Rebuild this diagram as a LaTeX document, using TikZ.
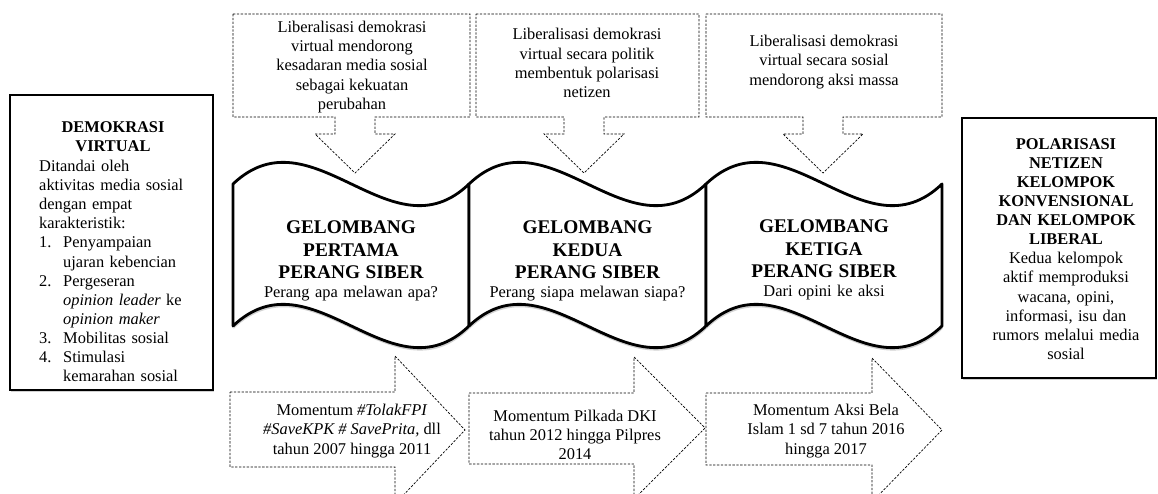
\documentclass[tikz,border=0pt]{standalone}
\usepackage{fontspec}
\setmainfont{Liberation Serif}
\usetikzlibrary{shadows}
\begin{document}
\begin{tikzpicture}[
    x=0.3mm, y=-0.3mm,
    sidebox/.style={draw, line width=1.5pt, fill=white, drop shadow={shadow xshift=1pt, shadow yshift=-1.5pt, fill=black!18, opacity=1}},
    wave/.style={draw, line width=2.4pt, fill=white, line join=round, drop shadow={shadow xshift=0.5pt, shadow yshift=-2.5pt, fill=black!18, opacity=1}},
    dashbox/.style={draw, line width=0.6pt, dash pattern=on 2pt off 1.3pt, fill=white},
    txt/.style={align=center, inner sep=0pt, font=\fontsize{14}{16.3}\selectfont},
    boldtxt/.style={txt, font=\fontsize{14}{16.3}\selectfont\bfseries},
    wavetxt/.style={txt, text width=65mm}
]
\useasboundingbox (0,0) rectangle (1158,494);
\clip (0,0) rectangle (1158,494);

% Left box
\draw[sidebox] (10,95) rectangle (213,390);
\node[boldtxt] (demotitle) at (113,136.5) {DEMOKRASI\\VIRTUAL};
\node[txt, align=left, text width=52mm, anchor=west] (demotext) at (39,271) {Ditandai oleh\\
    aktivitas media sosial\\
    dengan empat\\
    karakteristik:\\
    \makebox[7.2mm][l]{1.}Penyampaian\\
    \hspace*{7.2mm}ujaran kebencian\\
    \makebox[7.2mm][l]{2.}Pergeseran\\
    \hspace*{7.2mm}\textit{opinion leader} ke\\
    \hspace*{7.2mm}\textit{opinion maker}\\
    \makebox[7.2mm][l]{3.}Mobilitas sosial\\
    \makebox[7.2mm][l]{4.}Stimulasi\\
    \hspace*{7.2mm}kemarahan sosial};

% Right box
\draw[sidebox] (962,118) rectangle (1156,378);
\node[txt, text width=57mm] (poltext) at (1066,249) {{\bfseries POLARISASI\\
    NETIZEN\\
    KELOMPOK\\
    KONVENSIONAL\\
    DAN KELOMPOK\\
    LIBERAL\\}%
    Kedua kelompok\\
    aktif memproduksi\\
    wacana, opini,\\
    informasi, isu dan\\
    rumors melalui media\\
    sosial};

% Top callouts
\draw[dashbox] (233,14) -- (470,14) -- (470,117) -- (375,117) -- (375,134) -- (395,134) -- (355,173)
    -- (315,134) -- (335,134) -- (335,117) -- (233,117) -- cycle;
\draw[dashbox] (476,14) -- (699,14) -- (699,117) -- (604,117) -- (604,134) -- (624,134) -- (584,173)
    -- (544,134) -- (564,134) -- (564,117) -- (476,117) -- cycle;
\draw[dashbox] (706,14) -- (942,14) -- (942,117) -- (843,117) -- (843,134) -- (863,134) -- (823,173)
    -- (783,134) -- (803,134) -- (803,117) -- (706,117) -- cycle;
\node[txt] (top1) at (352,67) {Liberalisasi demokrasi\\virtual mendorong\\kesadaran media sosial\\sebagai kekuatan\\perubahan};
\node[txt] (top2) at (587,63) {Liberalisasi demokrasi\\virtual secara politik\\membentuk polarisasi\\netizen};
\node[txt] (top3) at (824,62) {Liberalisasi demokrasi\\virtual secara sosial\\mendorong aksi massa};

% Waves
\draw[wave] (233,184) .. controls (312,109) and (391,259) .. (469,184) -- (469,326)
    .. controls (391,401) and (312,251) .. (233,326) -- cycle;
\draw[wave] (469,184) .. controls (548,109) and (627,259) .. (706,184) -- (706,326)
    .. controls (627,401) and (548,251) .. (469,326) -- cycle;
\draw[wave] (706,184) .. controls (785,109) and (864,259) .. (942,184) -- (942,326)
    .. controls (864,401) and (785,251) .. (706,326) -- cycle;
\node[wavetxt] (wave1) at (351,261) {{\bfseries\fontsize{16.5}{19.3}\selectfont GELOMBANG\\PERTAMA\\PERANG SIBER\par}Perang apa melawan apa?};
\node[wavetxt] (wave2) at (587.5,261) {{\bfseries\fontsize{16.5}{19.3}\selectfont GELOMBANG\\KEDUA\\PERANG SIBER\par}Perang siapa melawan siapa?};
\node[wavetxt] (wave3) at (824,260) {{\bfseries\fontsize{16.5}{19.3}\selectfont GELOMBANG\\KETIGA\\PERANG SIBER\par}Dari opini ke aksi};

% Bottom arrows
\draw[dashbox] (230,392) -- (395,392) -- (395,356) -- (465,430) -- (395,504) -- (395,467) -- (230,467) -- cycle;
\draw[dashbox] (469,393) -- (634,393) -- (634,357) -- (705,428) -- (634,499) -- (634,464) -- (469,464) -- cycle;
\draw[dashbox] (706,393) -- (872,393) -- (872,358) -- (942,430) -- (872,502) -- (872,465) -- (706,465) -- cycle;
\node[txt] (mom1) at (352,431) {Momentum \textit{\#TolakFPI}\\\textit{\#SaveKPK \# SavePrita,} dll\\tahun 2007 hingga 2011};
\node[txt] (mom2) at (575,435) {Momentum Pilkada DKI\\tahun 2012 hingga Pilpres\\2014};
\node[txt] (mom3) at (826,431) {Momentum Aksi Bela\\Islam 1 sd 7 tahun 2016\\hingga 2017};
\end{tikzpicture}
\end{document}
